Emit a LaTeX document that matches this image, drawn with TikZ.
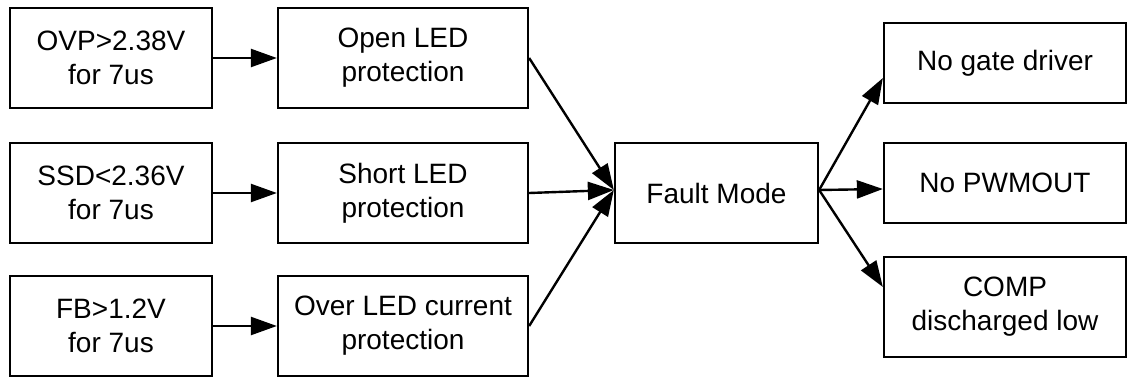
\documentclass[tikz,border=0pt]{standalone}
\usepackage{fontspec}
\setmainfont{Liberation Sans}
\usetikzlibrary{arrows.meta}
\begin{document}
\begin{tikzpicture}[x=1pt,y=-1pt,
  box/.style={draw,line width=2.3pt,rectangle,align=center,inner sep=0pt,
    font=\fontsize{28}{34}\selectfont},
  inbox/.style={box,minimum width=202pt,minimum height=100pt},
  protbox/.style={box,minimum width=250pt,minimum height=100pt},
  outbox/.style={box,minimum width=242pt},
  flow/.style={line width=2.4pt,-{Triangle[length=26pt,width=18pt]}}]
\useasboundingbox (0,0) rectangle (1127,377);
% input conditions
\node[inbox] (ovp) at (111,58) {OVP>2.38V\\for 7us};
\node[inbox] (ssd) at (111,193) {SSD<2.36V\\for 7us};
\node[inbox] (fb) at (111,326) {FB>1.2V\\for 7us};
% protection blocks
\node[protbox] (open) at (403,58) {Open LED\\protection};
\node[protbox] (short) at (403,193) {Short LED\\protection};
\node[protbox] (over) at (403,326) {Over LED current\\protection};
% fault mode
\node[box,minimum width=203pt,minimum height=100pt] (fault) at (716.5,193) {Fault Mode};
% consequences
\node[outbox,minimum height=80pt] (gate) at (1005,63) {No gate driver};
\node[outbox,minimum height=80pt] (pwm) at (1005,183) {No PWMOUT};
\node[outbox,minimum height=100pt] (comp) at (1005,307) {COMP\\discharged low};
% connectors
\draw[flow] (ovp) -- (open);
\draw[flow] (ssd) -- (short);
\draw[flow] (fb) -- (over);
\draw[flow] (open.east) -- ([yshift=3pt]fault.west);
\draw[flow] (short.east) -- ([yshift=3pt]fault.west);
\draw[flow] (over.east) -- ([yshift=3pt]fault.west);
\draw[flow] ([yshift=3pt]fault.east) -- ([yshift=-15pt]gate.west);
\draw[flow] ([yshift=3pt]fault.east) -- ([yshift=-6pt]pwm.west);
\draw[flow] ([yshift=3pt]fault.east) -- ([yshift=20pt]comp.west);
\end{tikzpicture}
\end{document}
